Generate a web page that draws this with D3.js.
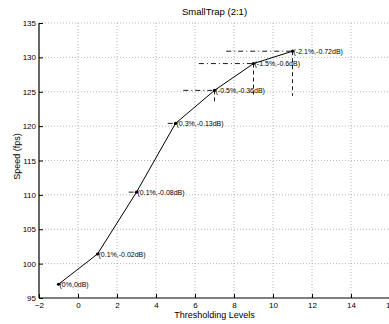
<!DOCTYPE html>
<html><head><meta charset="utf-8">
<script src="https://cdn.jsdelivr.net/npm/d3@7"></script>
<style>body{margin:0;background:#fff}svg{display:block}text{font-family:"Liberation Sans",Arial,sans-serif}</style>
</head><body><svg id="c" width="389" height="324"></svg>
<script>
const levels = [-1, 1, 3, 5, 7, 9, 11];
const speed = [97, 101.4, 110.4, 120.4, 125.2, 129.1, 130.9];
const labels = ["(0%,0dB)", "(0.1%,-0.02dB)", "(0.1%,-0.08dB)", "(0.3%,-0.13dB)", "(-0.5%,-0.36dB)", "(-1.5%,-0.6dB)", "(-2.1%,-0.72dB)"];
const hLeft = [null, null, 2.6, 4.6, 5.4, 6.2, 7.6];
const vLow = [null, null, null, null, 123.6, 124.6, 124.4];
const xTicks = [-2, 0, 2, 4, 6, 8, 10, 12, 14, 16];
const yTicks = [95, 100, 105, 110, 115, 120, 125, 130, 135];

const svg = d3.select("#c");
const L = 39, R = 390, T = 23, B = 298;
const x = d3.scaleLinear().domain([-2, 16]).range([L, R]);
const y = d3.scaleLinear().domain([95, 135]).range([B, T]);

// grid
const g = svg.append("g");
g.selectAll(".vg").data(xTicks.slice(1)).join("line")
  .attr("x1", d => x(d)).attr("x2", d => x(d)).attr("y1", T).attr("y2", B)
  .attr("stroke", "#999").attr("stroke-width", 0.7).attr("stroke-dasharray", "1,2");
g.selectAll(".hg").data(yTicks.slice(1)).join("line")
  .attr("x1", L).attr("x2", R).attr("y1", d => y(d)).attr("y2", d => y(d))
  .attr("stroke", "#999").attr("stroke-width", 0.7).attr("stroke-dasharray", "1,2");

// axes
const xa = svg.append("g").attr("transform", `translate(0,${B})`)
  .call(d3.axisBottom(x).tickValues(xTicks).tickSize(-4).tickPadding(4).tickFormat(d => d < 0 ? "\u2212" + Math.abs(d) : d));
const ya = svg.append("g").attr("transform", `translate(${L},0)`)
  .call(d3.axisLeft(y).tickValues(yTicks).tickSize(-4).tickPadding(3));
[xa, ya].forEach(a => {
  a.select(".domain").attr("stroke", "#000").attr("stroke-width", 1.2);
  a.selectAll(".tick line").attr("stroke", "#000");
  a.selectAll("text").attr("font-size", "8px").attr("fill", "#000").style("font-family", "'Liberation Sans',Arial,sans-serif");
});
ya.select(".domain").attr("d", `M0,${T}V${B}`);
xa.select(".domain").attr("d", `M${L},0H${R}`);

// annotation lines
const pts = levels.map((d, i) => ({x: d, y: speed[i], lab: labels[i], hl: hLeft[i], vl: vLow[i]}));
svg.selectAll(".hl").data(pts.filter(p => p.hl != null)).join("line")
  .attr("x1", p => x(p.hl)).attr("x2", p => x(p.x)).attr("y1", p => y(p.y)).attr("y2", p => y(p.y))
  .attr("stroke", "#000").attr("stroke-width", 0.9).attr("stroke-dasharray", "5,3,1,3");
svg.selectAll(".vl").data(pts.filter(p => p.vl != null)).join("line")
  .attr("x1", p => x(p.x)).attr("x2", p => x(p.x)).attr("y1", p => y(p.y)).attr("y2", p => y(p.vl))
  .attr("stroke", "#000").attr("stroke-width", 0.9).attr("stroke-dasharray", "4,3");

// line
svg.append("path").datum(pts)
  .attr("d", d3.line().x(p => x(p.x)).y(p => y(p.y)))
  .attr("fill", "none").attr("stroke", "#000").attr("stroke-width", 1);
svg.selectAll(".pt").data(pts).join("circle")
  .attr("cx", p => x(p.x)).attr("cy", p => y(p.y)).attr("r", 1.6).attr("fill", "#000");
svg.selectAll(".lab").data(pts).join("text")
  .attr("x", p => x(p.x) + 1).attr("y", p => y(p.y) + 2.5)
  .attr("font-size", "7px").attr("fill", "#000").text(p => p.lab);

// titles
svg.append("text").attr("x", (L + R) / 2).attr("y", 15).attr("text-anchor", "middle")
  .attr("font-size", "9.5px").text("SmallTrap (2:1)");
svg.append("text").attr("x", (L + R) / 2).attr("y", 318).attr("text-anchor", "middle")
  .attr("font-size", "9px").text("Thresholding Levels");
svg.append("text").attr("transform", `translate(20,${(T + B) / 2 - 4}) rotate(-90)`).attr("text-anchor", "middle")
  .attr("font-size", "9px").text("Speed (fps)");
</script></body></html>
